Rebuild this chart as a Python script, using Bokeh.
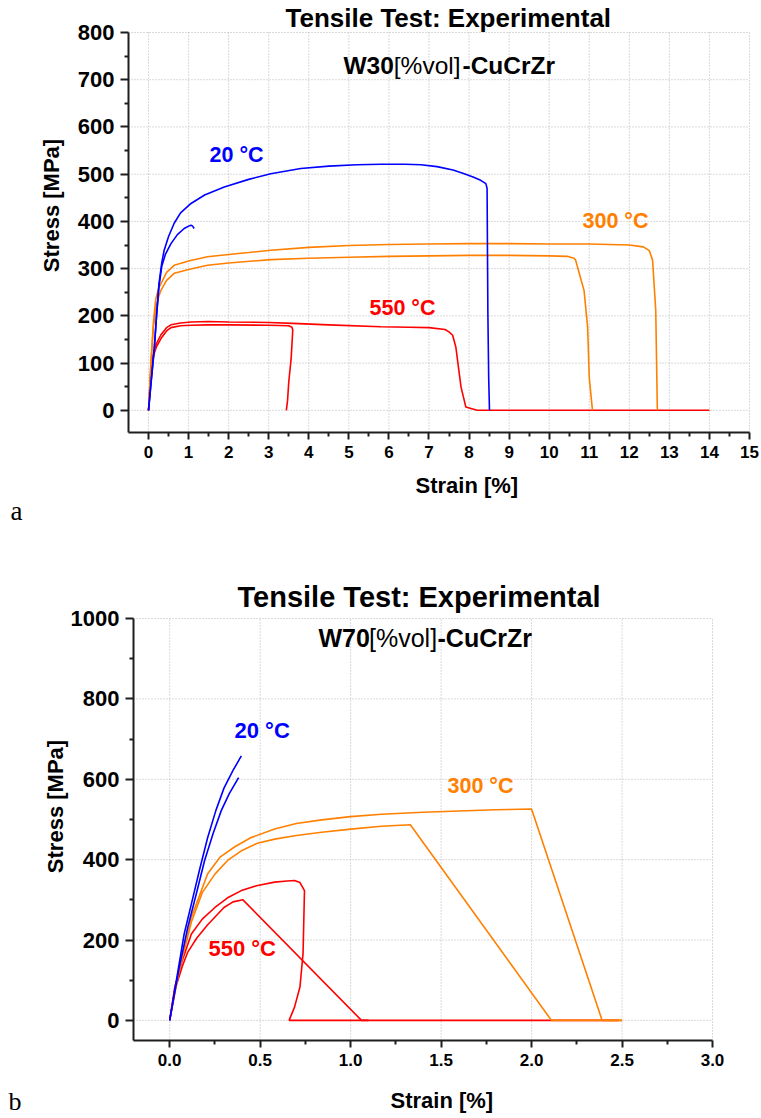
import math
from bokeh.plotting import figure
from bokeh.models import Range1d, FixedTicker, Label, PrintfTickFormatter, LinearAxis
from bokeh.layouts import column
from bokeh.embed import file_html
from bokeh.resources import INLINE

# ---------------- W30[%vol]-CuCrZr (panel a) ----------------
a20_long_strain = [0, 0.07, 0.14, 0.2, 0.26, 0.33, 0.39, 0.5, 0.64, 0.8, 1.06, 1.4, 1.89, 2.5,
                   3.05, 3.8, 4.5, 5.2, 5.8, 6.4, 6.8, 7.2, 7.6, 7.88, 8.1, 8.29, 8.42, 8.45,
                   8.47, 8.49, 8.51]
a20_long_stress = [0, 65, 127, 200, 268, 312, 339, 368, 396, 418, 438, 456, 473, 489,
                   501, 512, 517, 520, 521, 521, 520, 516, 509, 501, 494, 487, 480, 470,
                   205, 70, 0]
a20_short_strain = [0, 0.07, 0.14, 0.2, 0.26, 0.33, 0.42, 0.56, 0.72, 0.89, 1.0, 1.06, 1.1, 1.14]
a20_short_stress = [0, 65, 127, 200, 262, 305, 330, 353, 372, 385, 390, 392, 390, 385]

a300_long_strain = [0, 0.06, 0.12, 0.18, 0.25, 0.31, 0.45, 0.64, 1.0, 1.47, 2.0, 2.5, 3.05, 4.0,
                    5.0, 6.0, 7.0, 8.0, 9.0, 10.0, 11.0, 12.0, 12.35, 12.5, 12.58, 12.66, 12.7]
a300_long_stress = [0, 100, 185, 235, 258, 268, 292, 307, 316, 325, 330, 334, 339, 345,
                    349, 351, 352, 353, 353, 352, 352, 350, 346, 338, 318, 212, 0]
a300_short_strain = [0, 0.06, 0.12, 0.18, 0.25, 0.31, 0.45, 0.64, 1.0, 1.47, 2.0, 3.05, 4.0, 5.0,
                     6.0, 7.0, 8.0, 9.0, 10.0, 10.45, 10.62, 10.66, 10.8, 10.87, 10.96, 11.0, 11.08]
a300_short_stress = [0, 100, 175, 215, 240, 254, 275, 290, 298, 307, 312, 319, 322, 324,
                     326, 327, 328, 328, 327, 326, 322, 318, 275, 254, 176, 70, 0]

a550_long_strain = [0, 0.03, 0.06, 0.12, 0.2, 0.31, 0.45, 0.56, 0.8, 1.06, 1.5, 2.0, 3.0, 3.6,
                    4.5, 5.8, 6.5, 7.0, 7.4, 7.5, 7.59, 7.67, 7.8, 7.92, 8.2, 14.0]
a550_long_stress = [0, 40, 85, 120, 142, 160, 175, 181, 185, 187, 188, 187, 186, 184,
                    181, 177, 176, 175, 171, 166, 159, 134, 49, 7, 0, 0]
a550_short_strain = [0, 0.03, 0.06, 0.12, 0.2, 0.31, 0.45, 0.56, 0.8, 1.06, 1.5, 2.0, 3.0, 3.5,
                     3.58, 3.6, 3.56, 3.5, 3.47, 3.44]
a550_short_stress = [0, 40, 85, 115, 135, 152, 168, 175, 179, 180, 181, 181, 180, 179,
                     176, 170, 110, 60, 21, 0]

a_xticks = list(range(0, 16))
a_xminor = [i + 0.5 for i in range(0, 15)]
a_yticks = list(range(0, 801, 100))
a_yminor = list(range(50, 800, 100))

# ---------------- W70[%vol]-CuCrZr (panel b) ----------------
b20_long_strain = [0, 0.046, 0.08, 0.12, 0.165, 0.21, 0.255, 0.30, 0.35, 0.396]
b20_long_stress = [0, 124, 215, 290, 375, 455, 522, 578, 622, 658]
b20_short_strain = [0, 0.05, 0.10, 0.15, 0.193, 0.24, 0.285, 0.33, 0.381]
b20_short_stress = [0, 125, 232, 320, 398, 465, 522, 565, 604]

b300_long_strain = [0, 0.05, 0.12, 0.21, 0.28, 0.36, 0.45, 0.58, 0.7, 0.84, 1.0, 1.17, 1.4,
                    1.6, 1.8, 2.0, 2.39, 2.5]
b300_long_stress = [0, 120, 257, 365, 407, 432, 455, 476, 490, 499, 507, 513, 518,
                    521, 524, 526, 0, 0]
b300_short_strain = [0, 0.05, 0.12, 0.18, 0.25, 0.32, 0.396, 0.48, 0.58, 0.7, 0.84, 1.0, 1.17,
                     1.33, 2.11, 2.5]
b300_short_stress = [0, 120, 245, 318, 364, 398, 422, 440, 451, 460, 468, 476, 483,
                     487, 0, 0]

b550_long_strain = [0, 0.028, 0.07, 0.12, 0.18, 0.25, 0.32, 0.396, 0.48, 0.58, 0.65, 0.69,
                    0.72, 0.745, 0.737, 0.72, 0.69, 0.66, 2.48]
b550_long_stress = [0, 83, 150, 215, 252, 281, 305, 323, 335, 344, 347, 348,
                    343, 323, 166, 83, 33, 0, 0]
b550_short_strain = [0, 0.028, 0.07, 0.1, 0.15, 0.21, 0.3, 0.35, 0.405, 1.06, 1.1]
b550_short_stress = [0, 75, 135, 170, 205, 238, 281, 295, 300, 0, 0]

b_xticks = [0, 0.5, 1.0, 1.5, 2.0, 2.5, 3.0]
b_xminor = [0.25, 0.75, 1.25, 1.75, 2.25, 2.75]
b_yticks = list(range(0, 1001, 200))
b_yminor = list(range(100, 1000, 200))

BLUE = "#0000ff"
ORANGE = "#ff8000"
RED = "#ff0000"
AXIS = "#1e1e1e"
GRID = "#b4b4b4"
SANS = "Liberation Sans"
SERIF = "Liberation Serif"

W = 761
HA, HB = 535, 583

# axis box of each panel, in pixels on its own canvas: left, top, width, height
A_LEFT, A_TOP, A_FW, A_FH = 128, 32, 621, 400
B_LEFT, B_TOP, B_FW, B_FH = 133, 83, 579, 422
A_XB, A_YB = (-0.5, 15.0), (-47.0, 800.0)
B_XB, B_YB = (-0.2, 3.0), (-50.0, 1000.0)

# Label places alphabetic text a little below its anchor; this pulls it back
BASELINE_SHIFT = 0.34


def to_data(px, py, left, top, fw, fh, xb, yb):
    x = xb[0] + (px - left) * (xb[1] - xb[0]) / fw
    y = yb[1] - (py - top) * (yb[1] - yb[0]) / fh
    return x, y


def make_panel(height, box, xb, yb, xt, xm, yt, ym, xfmt=None):
    left, top, fw, fh = box
    # the plotting area fills the whole canvas; the axes sit at fixed data positions
    x0, y1 = to_data(0, 0, left, top, fw, fh, xb, yb)
    x1, y0 = to_data(W, height, left, top, fw, fh, xb, yb)
    p = figure(width=W, height=height, x_range=Range1d(x0, x1), y_range=Range1d(y0, y1),
               output_backend="svg", toolbar_location=None,
               x_axis_location=None, y_axis_location=None, min_border=0)
    p.outline_line_color = None
    p.background_fill_color = "white"
    p.border_fill_color = "white"
    p.grid.visible = False

    # dotted grid at the major ticks, limited to the axis box
    p.segment(x0=[xb[0]] * len(yt), y0=yt, x1=[xb[1]] * len(yt), y1=yt,
              line_color=GRID, line_width=1, line_dash="1 2")
    p.segment(x0=xt, y0=[yb[0]] * len(xt), x1=xt, y1=[yb[1]] * len(xt),
              line_color=GRID, line_width=1, line_dash="1 2")

    xaxis = LinearAxis(fixed_location=yb[0], bounds=xb,
                       ticker=FixedTicker(ticks=xt, minor_ticks=xm))
    yaxis = LinearAxis(fixed_location=xb[0], bounds=yb,
                       ticker=FixedTicker(ticks=yt, minor_ticks=ym))
    if xfmt:
        xaxis.formatter = PrintfTickFormatter(format=xfmt)
    for ax in (xaxis, yaxis):
        ax.axis_line_color = AXIS
        ax.axis_line_width = 2
        ax.major_tick_line_color = AXIS
        ax.major_tick_line_width = 2
        ax.minor_tick_line_color = AXIS
        ax.minor_tick_line_width = 2
        ax.major_tick_in = 0
        ax.minor_tick_in = 0
        ax.minor_tick_out = 4
        ax.major_label_text_font = SANS
        ax.major_label_text_font_style = "bold"
        ax.major_label_text_color = "black"
    xaxis.major_tick_out = 7
    yaxis.major_tick_out = 8
    xaxis.major_label_text_font_size = "17px"
    yaxis.major_label_text_font_size = "22px"
    xaxis.major_label_standoff = 6
    yaxis.major_label_standoff = 6
    p.add_layout(xaxis, "below")
    p.add_layout(yaxis, "left")
    return p


def add_text(p, conv, px, py, text, size, color="black", style="bold", font=SANS,
             align="left", angle=0.0):
    if angle == 0.0:
        py = py - BASELINE_SHIFT * size
    else:
        px = px - BASELINE_SHIFT * size
    x, y = conv(px, py)
    p.add_layout(Label(x=x, y=y, text=text, text_font=font, text_font_size=f"{size}px",
                       text_font_style=style, text_color=color, text_align=align,
                       text_baseline="alphabetic", angle=angle))


lw = 1.6

# ---------------- panel a ----------------
pa = make_panel(HA, (A_LEFT, A_TOP, A_FW, A_FH), A_XB, A_YB,
                a_xticks, a_xminor, a_yticks, a_yminor)


def conv_a(px, py):
    return to_data(px, py, A_LEFT, A_TOP, A_FW, A_FH, A_XB, A_YB)


pa.line(a550_long_strain, a550_long_stress, line_color=RED, line_width=lw)
pa.line(a550_short_strain, a550_short_stress, line_color=RED, line_width=lw)
pa.line(a300_long_strain, a300_long_stress, line_color=ORANGE, line_width=lw)
pa.line(a300_short_strain, a300_short_stress, line_color=ORANGE, line_width=lw)
pa.line(a20_long_strain, a20_long_stress, line_color=BLUE, line_width=lw)
pa.line(a20_short_strain, a20_short_stress, line_color=BLUE, line_width=lw)

add_text(pa, conv_a, 285, 26.7, "Tensile Test: Experimental", 26)
add_text(pa, conv_a, 343, 73.3, "W30", 24.5)
add_text(pa, conv_a, 393.3, 73.3, "[%vol]", 24.5, style="normal")
add_text(pa, conv_a, 462, 73.3, "-CuCrZr", 24.5)
add_text(pa, conv_a, 209, 162, "20 °C", 21.5, color=BLUE)
add_text(pa, conv_a, 582, 228, "300 °C", 21.5, color=ORANGE)
add_text(pa, conv_a, 369, 315, "550 °C", 21.5, color=RED)
add_text(pa, conv_a, 415, 492.3, "Strain [%]", 22)
add_text(pa, conv_a, 58, 205, "Stress [MPa]", 22, align="center", angle=math.pi / 2)
add_text(pa, conv_a, 10, 520, "a", 27, style="normal", font=SERIF)

# ---------------- panel b ----------------
pb = make_panel(HB, (B_LEFT, B_TOP, B_FW, B_FH), B_XB, B_YB,
                b_xticks, b_xminor, b_yticks, b_yminor, xfmt="%.1f")


def conv_b(px, py):
    # py is measured on the page; panel b starts right below panel a
    return to_data(px, py - HA, B_LEFT, B_TOP, B_FW, B_FH, B_XB, B_YB)


pb.line(b550_long_strain, b550_long_stress, line_color=RED, line_width=lw)
pb.line(b550_short_strain, b550_short_stress, line_color=RED, line_width=lw)
pb.line(b300_long_strain, b300_long_stress, line_color=ORANGE, line_width=lw)
pb.line(b300_short_strain, b300_short_stress, line_color=ORANGE, line_width=lw)
pb.line(b20_long_strain, b20_long_stress, line_color=BLUE, line_width=lw)
pb.line(b20_short_strain, b20_short_stress, line_color=BLUE, line_width=lw)

add_text(pb, conv_b, 237, 606.7, "Tensile Test: Experimental", 29)
add_text(pb, conv_b, 318, 646, "W70", 25)
add_text(pb, conv_b, 368.5, 646, "[%vol]", 25, style="normal")
add_text(pb, conv_b, 437, 646, "-CuCrZr", 25)
add_text(pb, conv_b, 234, 737, "20 °C", 22, color=BLUE)
add_text(pb, conv_b, 447, 793, "300 °C", 21.5, color=ORANGE)
add_text(pb, conv_b, 208, 955, "550 °C", 22, color=RED)
add_text(pb, conv_b, 390, 1107.3, "Strain [%]", 22)
add_text(pb, conv_b, 62, 806, "Stress [MPa]", 22, align="center", angle=math.pi / 2)
add_text(pb, conv_b, 8, 1110, "b", 26, style="normal", font=SERIF)

layout = column(pa, pb, spacing=0)
open("out.html", "w").write(file_html(layout, INLINE))
